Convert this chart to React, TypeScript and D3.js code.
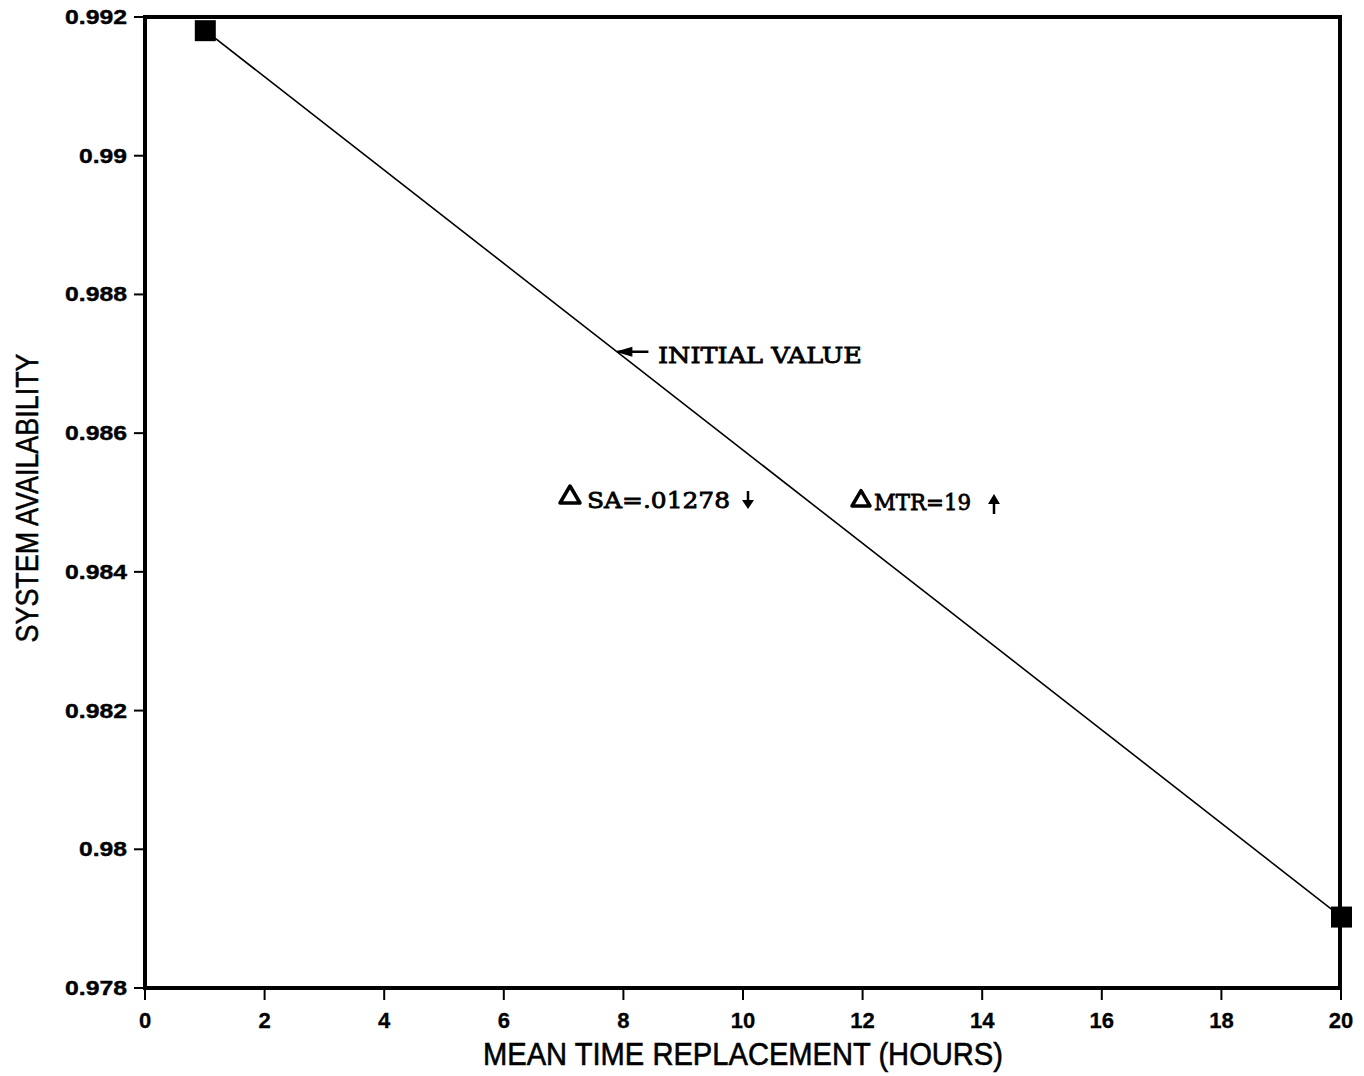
import React from "react";
import * as d3 from "d3";

// Mean time to replacement (hours) vs. system availability
const mtrHours: number[] = [1, 20];
const availability: number[] = [0.99181, 0.97903];

const xTicks: number[] = [0, 2, 4, 6, 8, 10, 12, 14, 16, 18, 20];
const yTicks: number[] = [0.978, 0.98, 0.982, 0.984, 0.986, 0.988, 0.99, 0.992];
const yTickLabels: string[] = ["0.978", "0.98", "0.982", "0.984", "0.986", "0.988", "0.99", "0.992"];

const initialX = 8;
const deltaSA = ".01278";
const deltaMTR = "19";

const W = 1364;
const H = 1076;
const M = { left: 145, right: 1341, top: 17, bottom: 988 };

const sans = "'Liberation Sans', Arial, sans-serif";
const slab = "'DejaVu Serif', 'Liberation Serif', serif";

// wide bold numerals: width per digit / per decimal point
const labelWidth = (s: string) =>
  s.split("").reduce((w, c) => w + (c === "." ? 6 : 14), 0);

export default function App() {
  const x = d3.scaleLinear().domain([0, 20]).range([M.left, M.right]);
  const y = d3.scaleLinear().domain([0.978, 0.992]).range([M.bottom, M.top]);

  const pts = mtrHours.map((h, i) => [h, availability[i]] as [number, number]);
  const line = d3
    .line<[number, number]>()
    .x((d) => x(d[0]))
    .y((d) => y(d[1]));

  // availability on the line at the initial MTR value
  const interp = d3.scaleLinear().domain(mtrHours).range(availability);
  const ix = x(initialX);
  const iy = y(interp(initialX));

  const tri = (cx: number, by: number, s: number) =>
    `M${cx - s / 2},${by} L${cx},${by - s * 0.85} L${cx + s / 2},${by} Z`;

  return (
    <svg
      width={W}
      height={H}
      style={{ position: "absolute", left: 0, top: 0, background: "#fff" }}
    >
      {/* frame */}
      <rect
        x={M.left}
        y={M.top}
        width={M.right - M.left - 1}
        height={M.bottom - M.top}
        fill="none"
        stroke="#000"
        strokeWidth={4}
      />

      {/* y axis ticks */}
      {yTicks.map((t, i) => (
        <g key={"y" + i}>
          <line x1={M.left - 11} x2={M.left} y1={y(t)} y2={y(t)} stroke="#000" strokeWidth={2} />
          <text
            x={M.left - 18 - labelWidth(yTickLabels[i])}
            y={y(t) + 7}
            fontFamily={sans}
            fontWeight="bold"
            fontSize={20}
            textLength={labelWidth(yTickLabels[i])}
            lengthAdjust="spacingAndGlyphs"
            fill="#000"
            stroke="#000"
            strokeWidth={0.4}
          >
            {yTickLabels[i]}
          </text>
        </g>
      ))}

      {/* x axis ticks */}
      {xTicks.map((t) => (
        <g key={"x" + t}>
          <line x1={x(t)} x2={x(t)} y1={M.bottom} y2={M.bottom + 12} stroke="#000" strokeWidth={2} />
          <text
            x={x(t)}
            y={M.bottom + 40}
            textAnchor="middle"
            fontFamily={sans}
            fontWeight="bold"
            fontSize={22}
            fill="#000"
            stroke="#000"
            strokeWidth={0.3}
          >
            {t}
          </text>
        </g>
      ))}

      {/* axis titles */}
      <text
        x={483}
        y={1065}
        fontFamily={sans}
        fontSize={32}
        textLength={520}
        lengthAdjust="spacingAndGlyphs"
        fill="#000"
        stroke="#000"
        strokeWidth={0.6}
      >
        MEAN TIME REPLACEMENT (HOURS)
      </text>
      <text
        transform="translate(38,498) rotate(-90)"
        textAnchor="middle"
        fontFamily={sans}
        fontSize={32}
        textLength={289}
        lengthAdjust="spacingAndGlyphs"
        fill="#000"
        stroke="#000"
        strokeWidth={0.5}
      >
        SYSTEM AVAILABILITY
      </text>

      {/* availability line */}
      <path d={line(pts) || ""} fill="none" stroke="#000" strokeWidth={1.6} />
      {pts.map((p, i) => (
        <rect
          key={"m" + i}
          x={x(p[0]) - 10}
          y={y(p[1]) - 10}
          width={21}
          height={21}
          fill="#000"
        />
      ))}

      {/* initial value annotation */}
      <path
        d={`M${ix - 6},${iy - 5} L${ix + 25},${iy - 5}`}
        stroke="#000"
        strokeWidth={2.5}
      />
      <path
        d={`M${ix - 8},${iy - 5} L${ix + 9},${iy - 10} L${ix + 9},${iy} Z`}
        fill="#000"
      />
      <text
        x={658}
        y={363}
        fontFamily={slab}
        fontSize={23}
        textLength={204}
        lengthAdjust="spacingAndGlyphs"
        fill="#000"
        stroke="#000"
        strokeWidth={0.8}
      >
        INITIAL VALUE
      </text>

      {/* delta SA annotation */}
      <path d={tri(570, 503, 20)} fill="none" stroke="#000" strokeWidth={3.5} strokeLinejoin="round" />
      <text
        x={587}
        y={508}
        fontFamily={slab}
        fontSize={23}
        textLength={143}
        lengthAdjust="spacingAndGlyphs"
        fill="#000"
        stroke="#000"
        strokeWidth={0.8}
      >
        {"SA=" + deltaSA}
      </text>
      <line x1={748} x2={748} y1={491} y2={503} stroke="#000" strokeWidth={2.5} />
      <path d="M742,500 L754,500 L748,509 Z" fill="#000" />

      {/* delta MTR annotation */}
      <path d={tri(861, 506, 18)} fill="none" stroke="#000" strokeWidth={3.5} strokeLinejoin="round" />
      <text
        x={874}
        y={510}
        fontFamily={slab}
        fontSize={23}
        textLength={97}
        lengthAdjust="spacingAndGlyphs"
        fill="#000"
        stroke="#000"
        strokeWidth={0.8}
      >
        {"MTR=" + deltaMTR}
      </text>
      <line x1={994} x2={994} y1={501} y2={514} stroke="#000" strokeWidth={2.5} />
      <path d="M988,504 L1000,504 L994,494 Z" fill="#000" />
    </svg>
  );
}
